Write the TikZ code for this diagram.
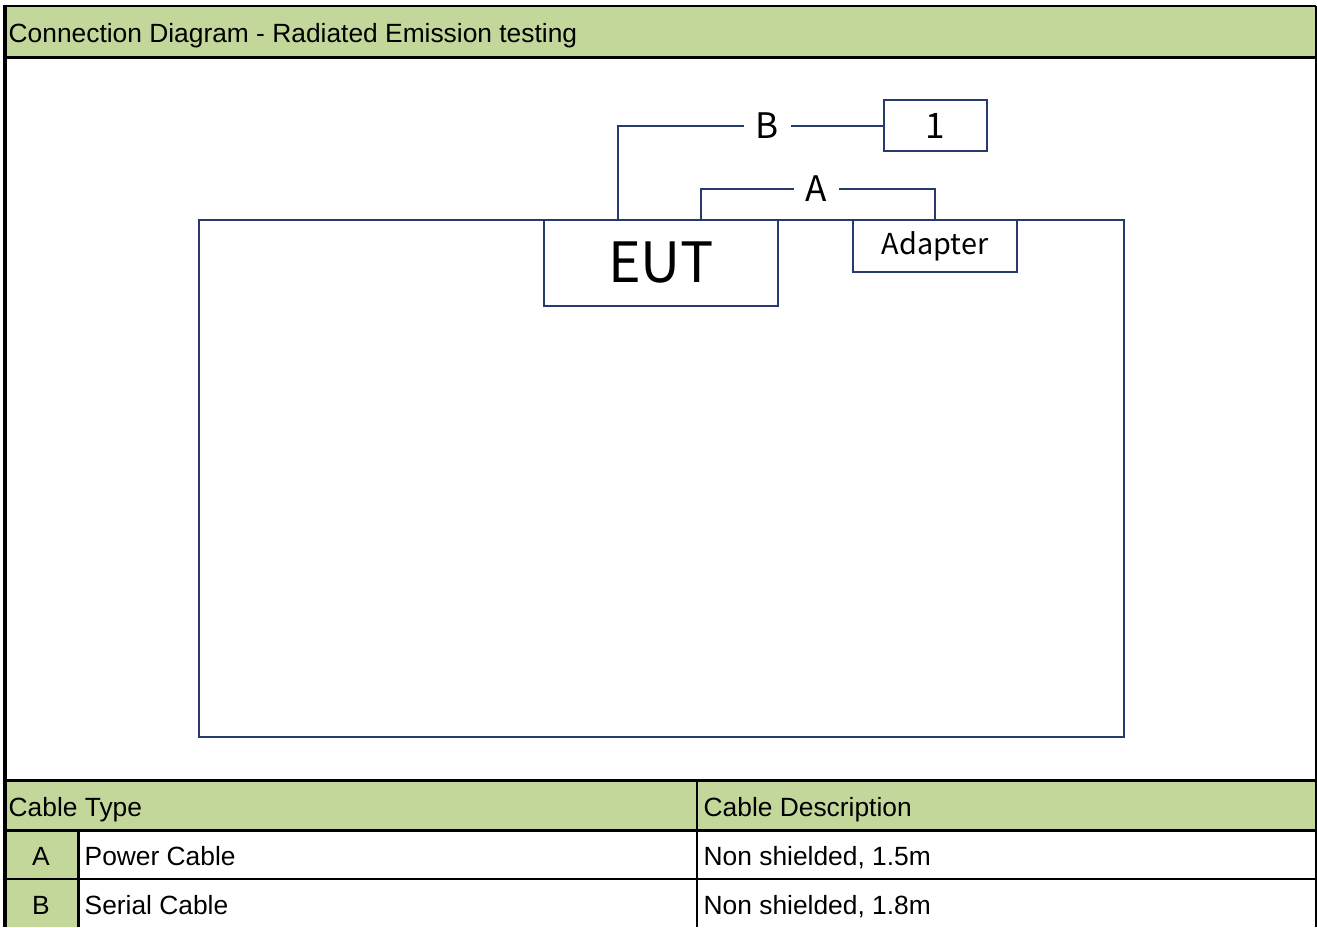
\documentclass[tikz,border=0pt]{standalone}
\usepackage{fontspec}
\setmainfont{Liberation Sans}
\newfontfamily\cjk{Noto Sans CJK SC}
\usetikzlibrary{positioning}
\definecolor{hdrgreen}{RGB}{196,215,155}
\definecolor{linkblue}{RGB}{38,58,110}

\begin{document}
\begin{tikzpicture}[
  grid/.style={line width=0.75pt, black},
  unit/.style={draw=linkblue, line width=0.65pt, inner sep=0pt},
  cable/.style={draw=linkblue, line width=0.65pt},
  cablelbl/.style={inner sep=0pt, font=\cjk\fontsize{10}{12}\selectfont},
  cell/.style={anchor=base west, inner sep=0pt, font=\fontsize{7.5}{9}\selectfont}
]
\useasboundingbox (0,0) rectangle (13.17,-9.27);
% green bars
\fill[hdrgreen] (0.05,-0.06) rectangle (13.16,-0.575);
\fill[hdrgreen] (0.05,-7.805) rectangle (13.16,-8.305);
\fill[hdrgreen] (0.05,-8.305) rectangle (0.787,-9.27);
% grid
\draw[grid] (0.05,-0.06) -- (13.16,-0.06);
\draw[grid] (0.05,-0.575) -- (13.16,-0.575);
\draw[grid] (0.05,-7.805) -- (13.16,-7.805);
\draw[grid] (0.05,-8.305) -- (13.16,-8.305);
\draw[grid] (0.05,-8.79) -- (13.16,-8.79);
\draw[grid] (0.787,-8.305) -- (0.787,-9.27);
\draw[grid] (6.97,-7.805) -- (6.97,-9.27);
\draw[grid] (13.16,-0.06) -- (13.16,-9.27);
\draw[line width=1.1pt] (0.05,-0.05) -- (0.05,-9.27);

% texts
\node[cell] (title) at (0.08,-0.43) {Connection Diagram - Radiated Emission testing};
\node[cell] (typehd) at (0.08,-8.16) {Cable Type};
\node[cell] (deschd) at (7.03,-8.16) {Cable Description};
\node[cell, anchor=base] (keyA) at (0.41,-8.65) {A};
\node[cell] (typeA) at (0.84,-8.65) {Power Cable};
\node[cell] (descA) at (7.03,-8.65) {Non shielded, 1.5m};
\node[cell, anchor=base] (keyB) at (0.41,-9.14) {B};
\node[cell] (typeB) at (0.84,-9.14) {Serial Cable};
\node[cell] (descB) at (7.03,-9.14) {Non shielded, 1.8m};

% set-up
\node[unit, minimum width=9.25cm, minimum height=5.17cm] (bench) at (6.615,-4.785) {};
\node[unit, minimum width=2.34cm, minimum height=0.86cm, font=\cjk\fontsize{15.8}{18}\selectfont] (eut) at (6.61,-2.63) {EUT};
\node[unit, minimum width=1.64cm, minimum height=0.52cm, font=\cjk\fontsize{8.2}{10}\selectfont] (adapter) at (9.35,-2.46) {Adapter};
\node[unit, minimum width=1.03cm, minimum height=0.51cm, font=\cjk\fontsize{10}{12}\selectfont] (aux) at (9.355,-1.255) {1};
\node[cablelbl, minimum width=0.45cm] (labB) at (7.675,-1.26) {B};
\node[cablelbl, minimum width=0.43cm] (labA) at (8.165,-1.89) {A};
\coordinate (portB) at (6.18,-2.20);
\coordinate (portA) at (7.01,-2.20);
\draw[cable] (portB) |- (labB.west);
\draw[cable] (labB.east) -- (labB.east -| aux.west);
\draw[cable] (portA) |- (labA.west);
\draw[cable] (labA.east) -| (adapter.north);
\end{tikzpicture}
\end{document}
